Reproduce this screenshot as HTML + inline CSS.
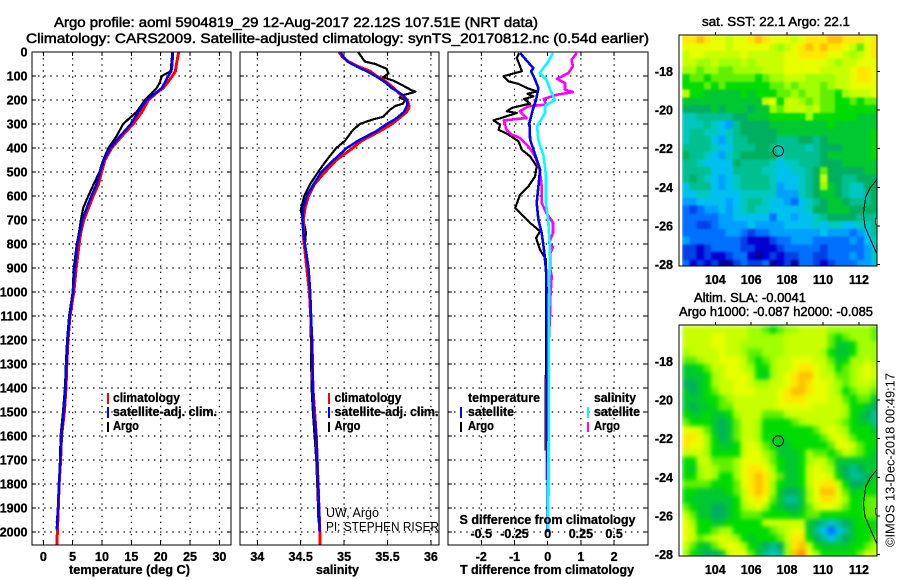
<!DOCTYPE html>
<html lang="en">
<head>
<meta charset="utf-8">
<title>Argo profile</title>
<style>
html,body{margin:0;padding:0;background:#fff;width:900px;height:580px;overflow:hidden}
svg{display:block}
text{font-family:"Liberation Sans",sans-serif;fill:#000}
.b{font-weight:bold;font-size:12.5px;stroke:#000;stroke-width:.3px}
.t{font-size:14px;stroke:#000;stroke-width:.5px}
.th{font-size:12.5px;stroke:#000;stroke-width:.45px}
.r{font-size:12.5px}
.frame{fill:none;stroke:#000;stroke-width:1.4;shape-rendering:crispEdges}
</style>
</head>
<body>
<svg id="chart" xmlns="http://www.w3.org/2000/svg" width="900" height="580" viewBox="0 0 900 580">
<rect width="900" height="580" fill="#fff"/>
<defs>
<clipPath id="c1"><rect x="32" y="52" width="199" height="493"/></clipPath>
<clipPath id="c2"><rect x="240" y="52" width="199" height="493"/></clipPath>
<clipPath id="c3"><rect x="448" y="52" width="200" height="493"/></clipPath>
<clipPath id="m1"><rect x="682" y="35" width="195" height="231"/></clipPath>
<clipPath id="m2"><rect x="682" y="325" width="195" height="231"/></clipPath>
<filter id="blurSst" x="0" y="0" width="1" height="1" color-interpolation-filters="sRGB"><feGaussianBlur stdDeviation="1" edgeMode="duplicate"/></filter>
<filter id="blurSla" x="0" y="0" width="1" height="1" color-interpolation-filters="sRGB"><feGaussianBlur stdDeviation="2" edgeMode="duplicate"/></filter>
</defs>
<text class="t" x="54" y="27" textLength="484" lengthAdjust="spacingAndGlyphs">Argo profile: aoml 5904819_29 12-Aug-2017 22.12S 107.51E (NRT data)</text>
<text class="t" x="26" y="43" textLength="623" lengthAdjust="spacingAndGlyphs">Climatology: CARS2009. Satellite-adjusted climatology: synTS_20170812.nc (0.54d earlier)</text>
<g id="grid"></g>
<g id="series"></g>
<g id="maps"></g>
<g id="ticks"></g>
<rect class="frame" x="32" y="52" width="199" height="493"/>
<rect class="frame" x="240" y="52" width="199" height="493"/>
<rect class="frame" x="448" y="52" width="200" height="493"/>
<rect class="frame" x="679" y="35" width="198" height="231"/>
<rect class="frame" x="679" y="325" width="198" height="231"/>
<text class="b" x="69" y="574" textLength="121" lengthAdjust="spacingAndGlyphs">temperature (deg C)</text>
<text class="b" x="316" y="574" textLength="43" lengthAdjust="spacingAndGlyphs">salinity</text>
<text class="b" x="460" y="574" textLength="174" lengthAdjust="spacingAndGlyphs">T difference from climatology</text>
<text class="b" x="459.500" y="524" textLength="176" lengthAdjust="spacingAndGlyphs">S difference from climatology</text>
<g>
<rect x="107" y="393" width="2" height="11" fill="#f00"/>
<text class="b" x="113" y="402" textLength="67" lengthAdjust="spacingAndGlyphs">climatology</text>
<rect x="107" y="407" width="2" height="11" fill="#00f"/>
<text class="b" x="113" y="416" textLength="104" lengthAdjust="spacingAndGlyphs">satellite-adj. clim.</text>
<rect x="107" y="422" width="2" height="10" fill="#000"/>
<text class="b" x="113" y="430" textLength="26" lengthAdjust="spacingAndGlyphs">Argo</text>
</g>
<g>
<rect x="328" y="393" width="2" height="11" fill="#f00"/>
<text class="b" x="334.500" y="402" textLength="67" lengthAdjust="spacingAndGlyphs">climatology</text>
<rect x="328" y="407" width="2" height="11" fill="#00f"/>
<text class="b" x="334.500" y="416" textLength="104" lengthAdjust="spacingAndGlyphs">satellite-adj. clim.</text>
<rect x="328" y="422" width="2" height="10" fill="#000"/>
<text class="b" x="334.500" y="430" textLength="26" lengthAdjust="spacingAndGlyphs">Argo</text>
<text class="r" x="326" y="517" textLength="53" lengthAdjust="spacingAndGlyphs">UW, Argo</text>
<text class="r" x="326" y="531" textLength="113" lengthAdjust="spacingAndGlyphs">PI: STEPHEN RISER</text>
</g>
<g>
<text class="b" x="468" y="402" textLength="72" lengthAdjust="spacingAndGlyphs">temperature</text>
<rect x="460" y="407" width="2" height="11" fill="#00f"/>
<text class="b" x="468" y="416" textLength="46" lengthAdjust="spacingAndGlyphs">satellite</text>
<rect x="460" y="422" width="2" height="10" fill="#000"/>
<text class="b" x="468" y="430" textLength="26" lengthAdjust="spacingAndGlyphs">Argo</text>
<text class="b" x="594" y="402" textLength="42" lengthAdjust="spacingAndGlyphs">salinity</text>
<rect x="587" y="407" width="2" height="11" fill="#0ff"/>
<text class="b" x="594" y="416" textLength="46" lengthAdjust="spacingAndGlyphs">satellite</text>
<rect x="587" y="422" width="2" height="10" fill="#f0f"/>
<text class="b" x="594" y="430" textLength="26" lengthAdjust="spacingAndGlyphs">Argo</text>
</g>
<text class="th" x="702" y="26" textLength="148" lengthAdjust="spacingAndGlyphs">sat. SST: 22.1 Argo: 22.1</text>
<text class="th" x="694" y="302" textLength="112" lengthAdjust="spacingAndGlyphs">Altim. SLA: -0.0041</text>
<text class="th" x="679" y="316" textLength="194" lengthAdjust="spacingAndGlyphs">Argo h1000: -0.087 h2000: -0.085</text>
<text class="r" transform="translate(894.500,547) rotate(-90)" textLength="174" lengthAdjust="spacingAndGlyphs">©IMOS 13-Dec-2018 00:49:17</text>
</svg>
<script>
const depthTicks=[0,100,200,300,400,500,600,700,800,900,1000,1100,1200,1300,1400,1500,1600,1700,1800,1900,2000];
const tempTicks=[0,5,10,15,20,25,30];
const salTicks=[34,34.5,35,35.5,36];
const salTickLabels=["34","34.5","35","35.5","36"];
const tDiffTicks=[-2,-1,0,1,2];
const sDiffTicks=[-0.5,-0.25,0,0.25,0.5];
const sDiffLabels=["-0.5","-0.25","0","0.25","0.5"];
const lonTicks=[104,106,108,110,112];
const latTicks=[18,20,22,24,26,28];

const tempClimDepth=[0,50,80,100,150,170,200,250,300,350,400,450,500,550,600,650,700,750,800,900,1000,1100,1200,1300,1400,1500,1600,1700,1800,1900,2000,2055];
const tempClim=[23.07,22.7,22.5,22,20.45,19.3,17.9,16.8,15.3,13.4,11.65,10.5,9.94,9.4,8.5,7.7,6.9,6.4,6.1,5.6,5.2,4.55,4.2,4,3.86,3.6,3.1,2.95,2.7,2.55,2.4,2.3];
const tempSatDepth=[0,50,80,100,150,200,250,300,350,400,450,500,550,600,650,700,750,800,900,1000,1100,1200,1300,1400,1500,1600,1700,1800,1900,1990];
const tempSat=[22.05,22,21.8,21.3,20.2,17.6,16.2,14.9,13.1,11.4,10.3,9.66,9.1,8.2,7.4,6.65,6.25,5.8,5.4,5.05,4.5,4.15,3.95,3.8,3.5,3.1,2.9,2.7,2.5,2.3];
const tempArgoDepth=[0,80,100,130,150,200,250,280,300,350,400,450,500,550,600,650,700,750,800,900,1000,1100,1200,1300,1400,1500,1600,1700,1800,1900,1960];
const tempArgo=[22,21.7,20.2,19.8,19.3,17.3,15.9,14.5,13.6,12.5,11.1,10.2,9.55,8.6,7.67,6.8,6.4,6.1,5.7,5.2,5,4.4,4.05,3.85,3.7,3.35,2.95,2.85,2.65,2.5,2.3];

const salClimDepth=[0,20,40,60,80,100,120,150,180,200,230,250,280,300,330,370,400,450,500,550,600,650,700,770,800,900,1000,1200,1400,1600,1800,2000,2055];
const salClim=[34.94,34.98,35.05,35.16,35.3,35.37,35.47,35.57,35.66,35.73,35.75,35.72,35.62,35.55,35.41,35.2,35.1,34.91,34.78,34.66,34.59,34.55,34.53,34.53,34.54,34.57,34.6,34.63,34.64,34.68,34.7,34.72,34.72];
const salSatDepth=[0,20,40,60,80,100,120,150,180,200,220,250,280,300,330,370,400,450,500,550,600,650,700,750,800,900,1000,1100,1200,1300,1400,1500,1600,1700,1800,1900,2000];
const salSat=[34.96,34.99,35.04,35.14,35.26,35.36,35.45,35.55,35.68,35.72,35.73,35.69,35.59,35.49,35.37,35.16,35.03,34.88,34.74,34.65,34.57,34.53,34.52,34.53,34.55,34.59,34.61,34.62,34.63,34.635,34.64,34.65,34.68,34.69,34.7,34.71,34.72];
const salArgoDepth=[0,20,40,50,70,90,105,120,140,160,165,170,180,190,200,215,225,240,270,280,300,330,370,400,450,500,550,600,660,700,750,800,900,1000,1400,1500,1600,1700,1800,1900,1960];
const salArgo=[35.16,35.2,35.24,35.36,35.49,35.51,35.45,35.57,35.68,35.78,35.82,35.78,35.68,35.64,35.7,35.68,35.59,35.53,35.45,35.34,35.18,35.09,35.01,34.91,34.8,34.7,34.61,34.54,34.5,34.53,34.56,34.55,34.59,34.61,34.625,34.64,34.66,34.68,34.69,34.7,34.705];

const tDiffArgoDepth=[4,25,60,80,101,122,133,150,164,174,185,196,215,233,247,254,285,303,324,340,372,407,435,476,518,560,594,650,685,712,747,775,824,865,935,1018,1250,1660];
const tDiffArgo=[-.86,-.93,-.83,-.78,-1.33,-1.18,-.88,-.63,-.33,-.61,-.43,-.71,-.53,-1.08,-1.23,-.93,-1.63,-1.43,-1.48,-1.23,-.88,-.78,-.53,-.33,-.38,-.58,-.83,-.98,-.73,-.53,-.23,-.35,-.23,-.05,-.05,-.05,-.05,-.07];
const tDiffSatDepth=[4,39,67,80,115,150,199,240,296,365,428,490,560,629,699,754,824,907,1018,1100,1400,2000];
const tDiffSat=[-.83,-.61,-.43,-.5,-.38,-.28,-.35,-.45,-.55,-.53,-.38,-.23,-.28,-.33,-.28,-.18,-.11,-.05,-.03,-.02,-.01,0];
const sDiffArgoDepth=[4,32,60,88,112,129,157,167,178,196,219,226,247,275,285,324,344,358,393,435,490,560,629,671,712,754,796,812,838,907,935,1018,1060,1400,1783];
const sDiffArgo=[.22,.18,.19,.155,.07,.13,.13,.19,.07,-.03,-.01,-.145,-.21,-.16,-.33,-.31,-.27,-.21,-.145,-.095,-.06,-.045,-.045,-.01,.04,.04,.01,.04,.02,.02,.03,.02,.02,-.008,-.008];
const sDiffSatDepth=[4,39,88,115,171,199,224,254,310,365,435,518,629,712,824,1018,1296,1992];
const sDiffSat=[.04,.005,-.06,-.01,.03,.055,-.02,-.02,-.08,-.07,-.03,-.0125,-.0125,.005,.0175,.01,.0075,.005];

const mapPalette=["#00009a","#0000d0","#0040e8","#0070ff","#00a0ff","#00c0f0","#00c8c0","#00c090","#00b060","#00c830","#00dc00","#60f000","#a0ff00","#c8ff00","#e8ff00","#ffe800","#ffc000","#ff9000"];
const sstGrid=[
[15,15,16,15,14,14,13,14,14,15,16,15,14,14,14,13,14,15,15,15,16,16,15,15,15,14,15],
[14,14,14,14,14,14,13,14,14,14,14,14,13,12,13,14,15,16,15,16,15,15,14,13,11,14,15],
[13,14,14,13,13,13,13,13,14,13,13,13,13,13,14,14,15,15,15,15,14,14,13,12,13,14,15],
[13,13,12,12,13,12,12,12,13,12,13,13,13,13,14,14,14,14,14,14,13,12,13,13,14,14,14],
[12,12,11,12,12,11,11,12,12,12,12,13,13,13,14,14,14,14,14,13,13,13,13,14,15,15,14],
[10,11,11,10,11,11,11,11,11,11,10,11,12,12,13,13,13,12,12,12,12,13,13,14,15,15,14],
[10,10,10,11,10,11,10,10,10,10,10,10,11,11,12,11,12,12,12,11,12,13,13,14,14,14,14],
[13,10,10,9,9,9,9,9,10,9,10,10,10,11,11,12,11,12,12,11,11,10,12,13,13,13,14],
[9,9,9,9,9,9,9,9,9,9,9,13,14,10,13,13,12,11,12,11,11,10,10,11,10,11,11],
[8,8,8,8,9,8,9,9,9,8,9,9,12,11,13,13,13,12,13,11,11,10,10,10,10,10,10],
[6,6,7,7,7,7,7,8,8,9,9,9,10,10,10,10,10,12,10,10,10,10,10,10,9,9,9],
[6,6,6,7,6,5,4,7,8,8,8,8,9,9,9,9,9,9,9,9,10,9,9,9,9,9,9],
[6,7,7,6,6,5,6,7,8,8,8,8,8,9,9,9,9,9,9,9,9,9,9,9,9,9,10],
[6,7,7,7,5,4,6,7,7,8,8,8,8,7,7,7,8,8,7,8,9,9,9,9,9,9,10],
[7,7,7,7,6,5,5,7,7,7,8,8,7,6,7,7,7,6,7,8,8,8,9,9,9,9,10],
[8,7,7,6,5,4,6,7,8,8,8,8,8,6,7,7,7,7,7,8,9,9,9,9,9,9,10],
[7,7,6,5,5,5,5,8,7,7,7,7,6,5,6,6,7,7,7,8,8,8,9,9,9,9,9],
[7,7,7,7,5,5,5,7,7,7,7,6,6,5,5,6,6,7,8,11,8,8,8,8,8,9,9],
[7,8,7,6,5,4,5,6,7,7,7,7,6,5,5,5,6,7,8,13,8,8,7,7,8,8,8],
[5,7,7,7,5,4,5,6,7,7,7,7,6,4,5,5,6,7,8,12,9,8,7,6,6,8,8],
[5,5,6,6,5,5,5,5,6,6,6,6,6,4,4,4,6,7,8,9,9,8,7,6,6,7,8],
[4,4,5,5,5,5,4,5,6,7,7,6,5,5,4,3,5,6,7,8,9,9,8,7,7,7,8],
[3,2,3,4,4,5,4,5,6,7,6,6,5,5,5,5,5,6,8,8,9,9,9,8,8,8,8],
[3,3,3,3,3,4,4,5,5,5,5,5,3,5,5,4,5,5,6,7,8,8,8,8,7,7,7],
[3,3,2,2,3,4,4,4,4,5,4,4,4,4,5,5,5,5,6,5,6,6,5,5,6,6,7],
[3,3,3,3,3,3,4,4,3,2,3,3,4,4,4,4,4,4,4,5,4,4,4,3,4,5,7],
[4,3,3,3,3,3,3,3,2,1,1,1,2,3,3,4,4,4,3,3,3,3,3,4,3,5,6],
[2,2,1,2,3,3,3,3,2,2,1,1,1,2,3,3,3,3,3,2,3,3,3,3,3,4,6],
[2,2,1,2,1,1,2,3,3,1,0,1,2,1,2,2,3,3,2,2,3,3,3,4,3,4,6],
[3,1,2,1,2,0,0,2,3,2,2,3,0,1,2,0,3,3,2,1,2,3,3,3,4,4,5]
];
const slaGrid=[
[13,13,13,13,13,13,13,13,13,12,12,11,10,11,12,12,13,13,13,13,12,12,12,12,12,12,11],
[13,13,13,13,14,14,13,13,13,12,12,12,12,12,13,13,13,13,13,13,11,10,11,12,12,12,11],
[13,13,13,13,14,14,13,13,12,12,12,12,12,12,13,13,13,13,13,13,11,9,9,10,12,12,12],
[12,13,13,13,13,14,13,13,12,11,11,12,12,12,13,13,13,13,13,12,10,9,9,10,12,12,12],
[11,11,12,13,13,14,14,14,13,11,10,11,12,13,13,14,14,14,13,13,11,9,10,12,12,13,12],
[9,9,10,11,13,13,14,14,13,12,10,10,12,13,13,14,15,15,14,13,12,10,11,12,13,14,13],
[9,9,9,10,12,13,14,14,14,13,10,9,12,13,14,15,16,16,14,13,13,11,11,12,13,14,13],
[8,8,9,10,12,13,13,14,14,13,12,12,13,13,14,15,16,15,14,14,13,12,11,12,13,13,12],
[9,8,9,10,11,13,13,14,14,14,13,13,13,14,15,16,16,15,14,14,13,12,10,11,12,12,11],
[9,9,9,10,10,11,12,13,13,13,13,13,13,14,15,15,15,14,14,14,13,13,11,10,11,11,9],
[9,8,9,9,10,11,11,13,13,13,13,13,13,14,14,14,14,14,13,13,13,13,12,10,10,9,8],
[10,9,9,10,9,9,10,12,13,13,13,11,11,11,13,13,13,13,13,13,13,13,12,10,9,8,7],
[11,10,10,10,9,8,9,11,13,13,12,10,10,10,10,11,12,13,13,13,13,12,11,10,9,9,7],
[14,14,13,11,9,8,9,11,13,13,12,10,10,10,10,10,10,10,11,13,14,13,12,10,10,10,9],
[15,15,14,12,10,8,9,11,13,13,12,10,10,9,10,10,10,10,10,11,13,14,13,11,10,10,10],
[15,14,14,12,10,9,9,10,13,14,13,11,10,9,9,10,10,10,10,10,11,14,14,13,11,10,10],
[13,13,13,12,10,10,10,10,13,14,14,12,11,9,9,9,10,12,11,11,10,11,13,12,11,10,9],
[10,10,13,13,11,11,11,12,14,14,14,13,11,10,9,9,10,12,13,13,11,9,9,9,9,9,9],
[10,9,12,13,12,11,11,12,14,15,15,14,12,10,9,9,10,13,14,13,12,9,8,7,8,9,9],
[10,10,12,13,12,10,10,12,14,15,16,15,13,11,9,9,10,13,14,14,13,10,8,7,7,8,9],
[11,11,11,11,10,10,10,11,14,15,16,15,12,10,9,9,10,13,14,15,15,13,10,8,8,9,10],
[10,10,9,9,9,9,10,11,13,15,16,15,12,9,8,8,9,12,14,16,16,14,11,9,10,10,10],
[10,9,9,9,9,9,9,10,13,14,15,14,11,9,7,7,9,12,14,15,15,14,12,10,10,11,11],
[11,10,9,9,8,8,9,10,12,13,14,12,10,9,8,8,9,11,13,14,14,13,11,10,10,11,11],
[13,11,9,9,8,8,9,10,11,11,11,10,10,10,10,9,10,11,11,10,10,10,10,10,10,11,11],
[14,12,10,10,9,9,10,10,10,10,10,13,13,13,13,13,13,9,8,7,6,7,8,9,10,10,10],
[14,13,10,10,11,12,12,10,10,10,10,10,11,12,13,14,14,9,7,5,3,5,7,9,10,10,10],
[14,13,11,12,13,14,13,12,10,9,10,10,10,11,13,15,15,10,8,7,5,7,8,9,10,10,11],
[13,11,9,9,11,13,14,14,12,10,9,8,7,8,12,15,16,13,10,9,9,9,9,10,10,11,12],
[12,10,9,8,8,9,13,14,14,11,9,7,6,7,12,16,17,14,12,10,10,10,10,10,11,13,13]
];
const coastLon=[112.99,112.62,112.38,112.25,112.34,112.62,112.9,113.03];
const coastLat=[23.62,24.05,24.49,25.35,26.04,26.64,27.24,27.5];
const profileLon=[107.51];
const profileLat=[22.12];

const NS="http://www.w3.org/2000/svg";
function mk(parent,tag,attrs,txt){
  const e=document.createElementNS(NS,tag);
  for(const k in attrs)e.setAttribute(k,attrs[k]);
  if(txt!==undefined)e.textContent=txt;
  parent.appendChild(e);
  return e;
}
const yD=d=>52+0.24*d;
const xT=v=>43.3+5.87*v;
const xS=v=>257.3+86.8*(v-34);
const xDT=v=>547.7+33.2*v;
const xDS=v=>547.7+132.8*v;
const xLon=l=>715.3+17.95*(l-104);
const yLat=l=>71.3+19.33*(l-18);
const gGrid=document.getElementById('grid');
const gSeries=document.getElementById('series');
const gMaps=document.getElementById('maps');
const gTicks=document.getElementById('ticks');

function gridLine(x1,y1,x2,y2){
  const e=mk(gGrid,'line',{x1,y1,x2,y2,stroke:'#000','stroke-width':1.2,'stroke-dasharray':'1.4 4.7'});
  
  
}
function tickLine(x1,y1,x2,y2){
  const e=mk(gTicks,'line',{x1,y1,x2,y2,stroke:'#000','stroke-width':1,'shape-rendering':'crispEdges'});
  
  
}
function label(x,y,s,anchor){
  const e=mk(gTicks,'text',{x,y,'class':'b','text-anchor':anchor},s);
  
  
}
const panels=[[32,231,tempTicks,xT],[240,439,salTicks,xS],[448,648,tDiffTicks,xDT]];
panels.forEach(p=>{
  depthTicks.forEach(d=>{
    if(d>0)gridLine(p[0],yD(d),p[1],yD(d));
    tickLine(p[0],yD(d),p[0]+4,yD(d));
    tickLine(p[1]-4,yD(d),p[1],yD(d));
  });
  p[2].forEach(v=>{
    if(!(p[3]===xDT&&v===0))gridLine(p[3](v),52,p[3](v),545);
    tickLine(p[3](v),545,p[3](v),541);
    tickLine(p[3](v),52,p[3](v),56);
  });
});
depthTicks.forEach(d=>label(27.5,yD(d)+4.5,String(d),'end'));
tempTicks.forEach(v=>label(xT(v),561,String(v),'middle'));
salTicks.forEach((v,i)=>label(xS(v),561,salTickLabels[i],'middle'));
tDiffTicks.forEach(v=>label(xDT(v),561,String(v),'middle'));
sDiffTicks.forEach((v,i)=>label(xDS(v),538,sDiffLabels[i],'middle'));

function series(name,clip,xf,depths,vals,color,w){
  const pts=vals.map((v,i)=>xf(v).toFixed(1)+','+yD(depths[i]).toFixed(1)).join(' ');
  const e=mk(gSeries,'polyline',{points:pts,fill:'none',stroke:color,'stroke-width':w,'clip-path':'url(#'+clip+')','stroke-linejoin':'round','shape-rendering':'crispEdges'});
  
  
}
series('temperature-argo-line','c1',xT,tempArgoDepth,tempArgo,'#000',2.2);
series('temperature-climatology-line','c1',xT,tempClimDepth,tempClim,'#f00',3);
series('temperature-satellite-line','c1',xT,tempSatDepth,tempSat,'#00f',2.5);
series('salinity-argo-line','c2',xS,salArgoDepth,salArgo,'#000',2.2);
series('salinity-climatology-line','c2',xS,salClimDepth,salClim,'#f00',3);
series('salinity-satellite-line','c2',xS,salSatDepth,salSat,'#00f',2.5);
series('t-difference-argo-line','c3',xDT,tDiffArgoDepth,tDiffArgo,'#000',2.2);
series('s-difference-argo-line','c3',xDS,sDiffArgoDepth,sDiffArgo,'#f0f',2.6);
series('t-difference-satellite-line','c3',xDT,tDiffSatDepth,tDiffSat,'#00f',2.6);
series('s-difference-satellite-line','c3',xDS,sDiffSatDepth,sDiffSat,'#0ff',2.6);

const cellLon=0.405,cellLat=0.4,gridLon0=102.15,gridLat0=16.15;
function drawMap(name,grid,clip,filterId,off){
  const g=mk(gMaps,'g',{'clip-path':'url(#'+clip+')'});
  
  
  const cells=mk(g,'g',{filter:'url(#'+filterId+')','shape-rendering':'crispEdges'});
  
  
  grid.forEach((row,r)=>row.forEach((v,c)=>{
    const x=xLon(gridLon0+c*cellLon),y=yLat(gridLat0+r*cellLat)+off;
    const e=mk(cells,'rect',{x:x.toFixed(1),y:y.toFixed(1),width:(cellLon*17.95+.6).toFixed(1),height:(cellLat*19.33+.6).toFixed(1),fill:mapPalette[Math.max(0,Math.min(mapPalette.length-1,Math.round(v)))]});
    
    
  }));
  const isl=mk(g,'rect',{x:xLon(112.93),y:yLat(25.6)+off,width:3,height:6,fill:'#fff',stroke:'#000','stroke-width':.6});
  
  
  const coast=mk(g,'polyline',{points:coastLon.map((l,i)=>xLon(l).toFixed(1)+','+(yLat(coastLat[i])+off).toFixed(1)).join(' '),fill:'none',stroke:'#000','stroke-width':1,'shape-rendering':'crispEdges'});
  
  
  const mark=mk(gMaps,'circle',{cx:xLon(profileLon[0]),cy:yLat(profileLat[0])+off,r:5.2,fill:'none',stroke:'#000','stroke-width':1});
  
  
  lonTicks.forEach(l=>{
    const top=off?325:35;
    tickLine(xLon(l),top-3,xLon(l),top);
    label(xLon(l),284+off,String(l),'middle');
  });
  latTicks.forEach(l=>{
    tickLine(877,yLat(l)+off,880,yLat(l)+off);
    label(673,yLat(l)+off+4.5,String(-l),'end');
  });
}
drawMap('sst-heatmap',sstGrid,'m1','blurSst',0);
drawMap('sla-heatmap',slaGrid,'m2','blurSla',290);
</script>
</body>
</html>
